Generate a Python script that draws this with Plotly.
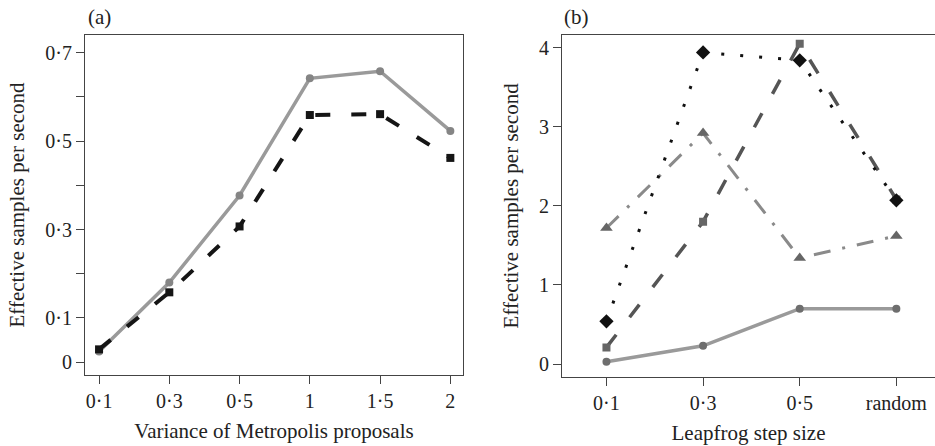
import plotly.graph_objects as go

# ---- data ----
var_cats = ["0·1", "0·3", "0·5", "1", "1·5", "2"]
metro_gray = [0.024, 0.180, 0.377, 0.642, 0.658, 0.523]
metro_black = [0.029, 0.158, 0.307, 0.559, 0.561, 0.462]

step_cats = ["0·1", "0·3", "0·5", "random"]
hmc_solid = [0.03, 0.23, 0.70, 0.70]
hmc_dashed = [0.21, 1.80, 4.05, 2.08]
hmc_dotted = [0.54, 3.94, 3.84, 2.07]
hmc_dashdot = [1.72, 2.92, 1.34, 1.62]

ya_vals = [0, 0.1, 0.2, 0.3, 0.4, 0.5, 0.6, 0.7]
ya_text = ["0", "0·1", "", "0·3", "", "0·5", "", "0·7"]
yb_vals = [0, 1, 2, 3, 4]
yb_text = ["0", "1", "2", "3", "4"]

W, H = 935, 446
FONT = "Liberation Serif, Times New Roman, serif"
AX = "#444444"

fig = go.Figure()

# panel (a)
fig.add_trace(go.Scatter(x=var_cats, y=metro_gray, mode="lines+markers",
                         line=dict(color="#9a9a9a", width=3.5),
                         marker=dict(symbol="circle", size=8, color="#858585"),
                         xaxis="x", yaxis="y", showlegend=False))
fig.add_trace(go.Scatter(x=var_cats, y=metro_black, mode="lines+markers",
                         line=dict(color="#151515", width=4, dash="15px,21px"),
                         marker=dict(symbol="square", size=8, color="#151515"),
                         xaxis="x", yaxis="y", showlegend=False))

# panel (b)
fig.add_trace(go.Scatter(x=step_cats, y=hmc_solid, mode="lines+markers",
                         line=dict(color="#9a9a9a", width=3.5),
                         marker=dict(symbol="circle", size=8, color="#6e6e6e"),
                         xaxis="x2", yaxis="y2", showlegend=False))
fig.add_trace(go.Scatter(x=step_cats, y=hmc_dashdot, mode="lines+markers",
                         line=dict(color="#8a8a8a", width=3, dash="17px,12px,3px,12px"),
                         marker=dict(symbol="triangle-up", size=11, color="#666666"),
                         xaxis="x2", yaxis="y2", showlegend=False))
fig.add_trace(go.Scatter(x=step_cats, y=hmc_dashed, mode="lines+markers",
                         line=dict(color="#555555", width=3.5, dash="16px,22px"),
                         marker=dict(symbol="square", size=8, color="#666666"),
                         xaxis="x2", yaxis="y2", showlegend=False))
fig.add_trace(go.Scatter(x=step_cats, y=hmc_dotted, mode="lines+markers",
                         line=dict(color="#111111", width=3, dash="3px,16px"),
                         marker=dict(symbol="diamond", size=11, color="#111111"),
                         xaxis="x2", yaxis="y2", showlegend=False))

common = dict(showline=True, linecolor=AX, linewidth=1, mirror=True,
              ticks="outside", ticklen=8, tickcolor=AX, showgrid=False,
              zeroline=False, tickfont=dict(family=FONT, size=20, color="#222222"))
tfont = dict(family=FONT, size=21, color="#222222")

fig.update_layout(
    width=W, height=H,
    margin=dict(l=0, r=0, t=0, b=0),
    paper_bgcolor="white", plot_bgcolor="white",
    xaxis=dict(domain=[85 / W, 463 / W], anchor="y", type="category",
               range=[-0.2, 5.18],
               title=dict(text="Variance of Metropolis proposals", font=tfont, standoff=12),
               **common),
    yaxis=dict(domain=[1 - 375 / H, 1 - 35 / H], anchor="x",
               range=[-0.029, 0.740], tickvals=ya_vals, ticktext=ya_text,
               title=dict(text="Effective samples per second", font=tfont, standoff=14),
               **common),
    xaxis2=dict(domain=[562 / W, 1.0], anchor="y2", type="category",
                range=[-0.46, 3.4],
                title=dict(text="Leapfrog step size", font=tfont, standoff=12),
                **common),
    yaxis2=dict(domain=[1 - 376.7 / H, 1 - 35 / H], anchor="x2",
                range=[-0.16, 4.16], tickvals=yb_vals, ticktext=yb_text,
                title=dict(text="Effective samples per second", font=tfont, standoff=14),
                **common),
    annotations=[
        dict(text="(a)", x=86 / W, y=1 - 17 / H, xref="paper", yref="paper",
             xanchor="left", yanchor="middle", showarrow=False, font=tfont),
        dict(text="(b)", x=562 / W, y=1 - 17 / H, xref="paper", yref="paper",
             xanchor="left", yanchor="middle", showarrow=False, font=tfont),
    ],
)

fig.write_html("out.html", config={"displayModeBar": False},
               post_script="document.body.style.margin='0';document.body.style.overflow='hidden';")
